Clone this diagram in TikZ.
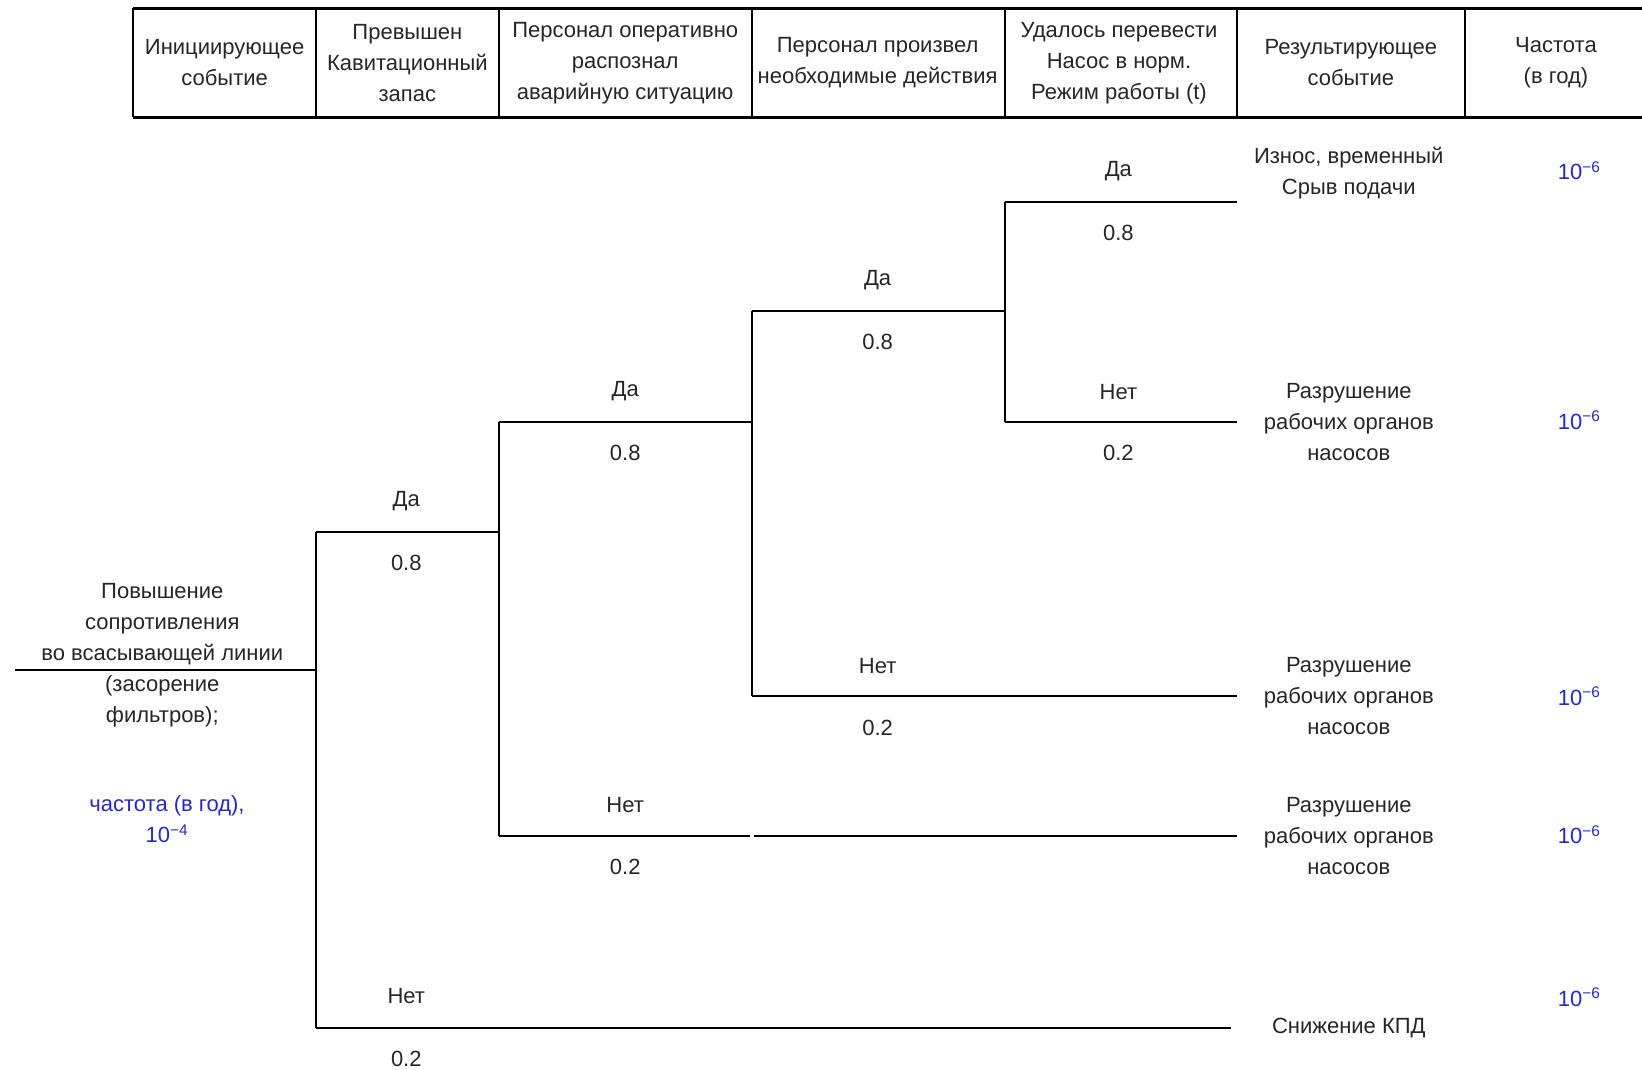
\documentclass[tikz,border=0pt]{standalone}
\usepackage{fontspec}
\setmainfont{Liberation Sans}
\definecolor{freqblue}{RGB}{40,40,200}
\begin{document}
\begin{tikzpicture}[x=1pt,y=-1pt,
  every node/.style={font=\fontsize{22}{31}\selectfont, inner sep=0pt, align=center, text=black!85},
  tree/.style={line width=2pt, black},
  hline/.style={line width=3pt, black},
  vline/.style={line width=2pt, black},
  freq/.style={text=freqblue}]
\useasboundingbox (0,0) rectangle (1642,1070);
% ---------- header table ----------
\coordinate (tl) at (133,8.4);
\coordinate (tr) at (1642,8.4);
\coordinate (bl) at (133,117.3);
\coordinate (br) at (1642,117.3);
\draw[hline] (tl) -- (tr);
\draw[hline] (bl) -- (br);
\foreach \x/\n in {133/a,316.3/b,498.5/c,751.9/d,1005.3/e,1236.7/f,1465/g}{
  \coordinate (ht\n) at (\x,8.4);
  \coordinate (hb\n) at (\x,117.3);
  \draw[vline] (ht\n) -- (hb\n);
}
\node (h1) at (224.6,62.5) {Инициирующее\\событие};
\node (h2) at (407.4,63) {Превышен\\Кавитационный\\запас};
\node (h3) at (625.2,63) {Персонал оперативно\\распознал\\аварийную ситуацию};
\node (h4) at (877.6,62.5) {Персонал произвел\\необходимые действия};
\node (h5) at (1119,63) {Удалось перевести\\Насос в норм.\\Режим работы (t)};
\node (h6) at (1350.8,62.5) {Результирующее\\событие};
\node (h7) at (1556,62.5) {Частота\\(в год)};
% ---------- tree ----------
\coordinate (start) at (14.7,670.2);
\coordinate (A) at (316.3,670.2);
\coordinate (Ay) at (316.3,532);
\coordinate (An) at (316.3,1028.4);
\coordinate (Aend) at (1230.5,1028.4);
\coordinate (B) at (498.5,532);
\coordinate (By) at (498.5,422);
\coordinate (Bn) at (498.5,835.7);
\coordinate (Bgap1) at (749.9,835.7);
\coordinate (Bgap2) at (753.9,835.7);
\coordinate (Bend) at (1236.7,835.7);
\coordinate (C) at (751.9,422);
\coordinate (Cy) at (751.9,311);
\coordinate (Cn) at (751.9,696.4);
\coordinate (Cend) at (1236.7,696.4);
\coordinate (D) at (1005.3,311);
\coordinate (Dy) at (1005.3,202);
\coordinate (Dn) at (1005.3,422);
\coordinate (Dyend) at (1236.7,202);
\coordinate (Dnend) at (1236.7,422);
\draw[tree] (start) -- (A);
\draw[tree] (Ay) -- (An);
\draw[tree] (Ay) -- (B);
\draw[tree] (An) -- (Aend);
\draw[tree] (By) -- (Bn);
\draw[tree] (By) -- (C);
\draw[tree] (Bn) -- (Bgap1);
\draw[tree] (Bgap2) -- (Bend);
\draw[tree] (Cy) -- (Cn);
\draw[tree] (Cy) -- (D);
\draw[tree] (Cn) -- (Cend);
\draw[tree] (Dy) -- (Dn);
\draw[tree] (Dy) -- (Dyend);
\draw[tree] (Dn) -- (Dnend);
% ---------- branch labels ----------
\node (l1) at (406.3,501.6) {Да};
\node (p1) at (406.3,563.4) {0.8};
\node (l2) at (406.3,996) {Нет};
\node (p2) at (406.3,1059) {0.2};
\node (l3) at (625.2,391.6) {Да};
\node (p3) at (625.2,453.4) {0.8};
\node (l4) at (625.2,805.3) {Нет};
\node (p4) at (625.2,867.1) {0.2};
\node (l5) at (877.6,280.6) {Да};
\node (p5) at (877.6,342.4) {0.8};
\node (l6) at (877.6,666) {Нет};
\node (p6) at (877.6,727.8) {0.2};
\node (l7) at (1118.4,171.6) {Да};
\node (p7) at (1118.4,233.4) {0.8};
\node (l8) at (1118.4,391.6) {Нет};
\node (p8) at (1118.4,453.4) {0.2};
% ---------- initiating event ----------
\node (init) at (162.3,655.5) {Повышение\\сопротивления\\во всасывающей линии\\(засорение\\фильтров);};
\node[freq] (initf) at (167,819.5) {частота (в год),\\10\textsuperscript{−4}};
% ---------- outcomes ----------
\node (o1) at (1348.8,172.8) {Износ, временный\\Срыв подачи};
\node (o2) at (1348.8,422) {Разрушение\\рабочих органов\\насосов};
\node (o3) at (1348.8,696.4) {Разрушение\\рабочих органов\\насосов};
\node (o4) at (1348.8,835.7) {Разрушение\\рабочих органов\\насосов};
\node (o5) at (1348.8,1028.4) {Снижение КПД};
% ---------- frequencies ----------
\node[freq] (f1) at (1579.2,170.7) {10\textsuperscript{−6}};
\node[freq] (f2) at (1579.2,420) {10\textsuperscript{−6}};
\node[freq] (f3) at (1579.2,696.4) {10\textsuperscript{−6}};
\node[freq] (f4) at (1579.2,834.6) {10\textsuperscript{−6}};
\node[freq] (f5) at (1579.2,997) {10\textsuperscript{−6}};
\end{tikzpicture}
\end{document}
